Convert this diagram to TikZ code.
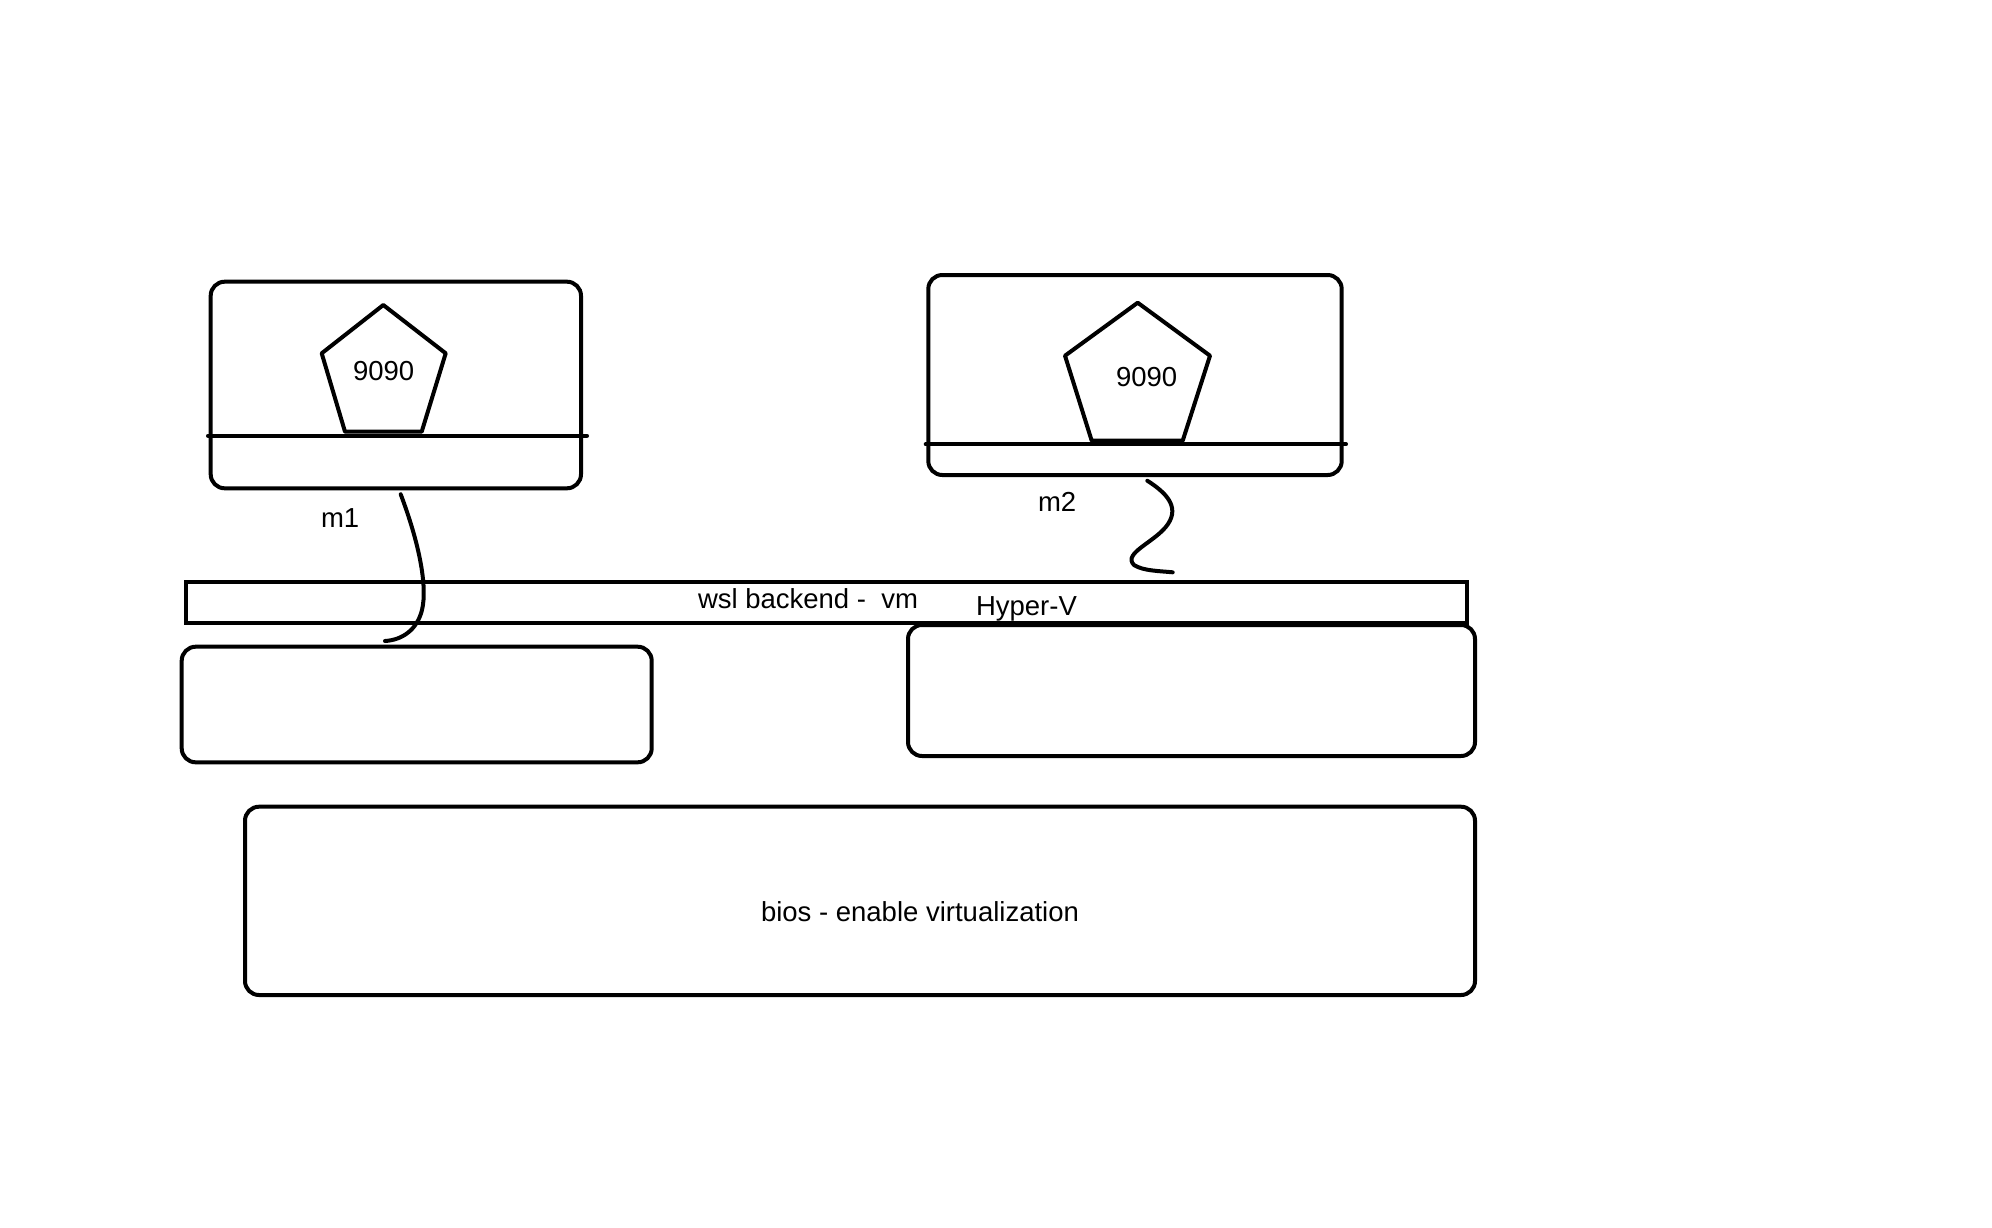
\documentclass[tikz,border=0pt]{standalone}
\usepackage{fontspec}
\setmainfont{Liberation Sans}
\begin{document}
\begin{tikzpicture}[x=1pt,y=-1pt,
  every node/.style={inner sep=0pt,outer sep=0pt,font=\fontsize{27.5}{31}\selectfont},
  frame/.style={line width=4pt,rounded corners=14pt},
  sbox/.style={draw,line width=4pt},
  lbl/.style={anchor=base west},
  link/.style={line width=4pt,line cap=round}]
\useasboundingbox[fill=white] (0,0) rectangle (1992,1227);

% machine m1
\draw[frame] (210.7,281.7) rectangle (581,488.3);
\coordinate (m1out) at (400.7,494.3);
\draw[link] (208,435.7) -- (587,435.7);
\draw[line width=4pt,line join=round] (383.3,305) -- (445.7,353.3) -- (421.7,431.7) -- (345,431.7) -- (321.7,353.3) -- cycle;
\node[lbl] (p1) at (353,380.7) {9090};
\node[lbl] (m1) at (321,527.7) {m1};

% machine m2
\draw[frame] (928.3,275) rectangle (1341.7,475);
\coordinate (m2out) at (1147.3,480.7);
\draw[link] (925.7,444.3) -- (1346,444.3);
\draw[line width=4pt,line join=round] (1137.7,302.7) -- (1210,355.7) -- (1182.7,440.7) -- (1091.7,440.7) -- (1065,355.7) -- cycle;
\node[lbl] (p2) at (1116,386.7) {9090};
\node[lbl] (m2) at (1038,511.7) {m2};

% wsl bar
\draw[sbox] (186,582.3) rectangle (1466.7,623.3);
\node[lbl] (wsl) at (698,608.5) {wsl backend -\ \ vm};
\node[lbl] (hyperv) at (976,615) {Hyper-V};

% lower boxes
\draw[frame] (181.7,646.7) rectangle (651.7,762.3);
\coordinate (lbtop) at (385,641);
\draw[frame] (908,625) rectangle (1475,756);
\coordinate (wslin) at (1172.7,572.3);

% bios
\draw[frame] (245,806.7) rectangle (1475,995);
\node[lbl] (bios) at (761,921.7) {bios - enable virtualization};

% connectors
\draw[link] (m1out) .. controls (418,540) and (428,585) .. (422,610) .. controls (417,630) and (402,640) .. (lbtop);
\draw[link] (m2out) .. controls (1165,492) and (1180,506) .. (1168,524) .. controls (1156,542) and (1122,553) .. (1134,565) .. controls (1143,571) and (1160,571) .. (wslin);
\end{tikzpicture}
\end{document}
